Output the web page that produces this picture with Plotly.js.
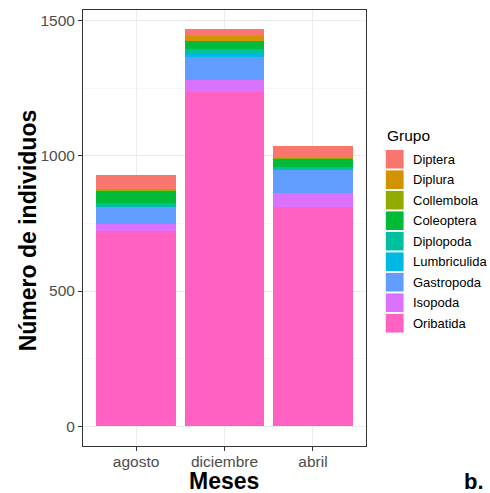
<!DOCTYPE html>
<html>
<head>
<meta charset="utf-8">
<script src="https://cdn.plot.ly/plotly-3.0.1.min.js"></script>
<style>
  html, body { margin: 0; padding: 0; background: #ffffff; }
  #chart { width: 490px; height: 493px; }
</style>
</head>
<body>
<div id="chart"></div>
<script>
// Sampling months (x axis)
const meses = ["agosto", "diciembre", "abril"];

// Taxonomic groups, from the bottom of each stack to the top
const grupos = ["Oribatida", "Isopoda", "Gastropoda", "Lumbriculida", "Diplopoda",
                "Coleoptera", "Collembola", "Diplura", "Diptera"];

// Number of individuals per group, one value per month (agosto, diciembre, abril)
const oribatida    = [722, 1236, 812];
const isopoda      = [25, 43, 52];
const gastropoda   = [64, 88, 83];
const lumbriculida = [1, 9, 1];
const diplopoda    = [15, 20, 11];
const coleoptera   = [43, 27, 31];
const collembola   = [5, 2, 1];
const diplura      = [2, 17, 2];
const diptera      = [52, 26, 43];

// ggplot2-style hue palette, same order as `grupos`
const colores = ["#FF61C3", "#DB72FB", "#619CFF", "#00B9E3", "#00C19F",
                 "#00BA38", "#93AA00", "#D39200", "#F8766D"];

const series = [oribatida, isopoda, gastropoda, lumbriculida, diplopoda,
                coleoptera, collembola, diplura, diptera];

const FONT = "Liberation Sans, Arial, sans-serif";

const traces = grupos.map((g, i) => ({
  type: "bar",
  name: g,
  x: meses,
  y: series[i],
  marker: { color: colores[i], line: { width: 0 } },
  hoverinfo: "x+y+name",
  showlegend: false
}));

// Page geometry of the plotting panel (pixels)
const W = 490, H = 493;
const PL = 82.7, PR = 365.7, PT = 10, PB = 446;
const px = x => (x - PL) / (PR - PL);
const py = y => (PB - y) / (PB - PT);

// Legend drawn as keys + labels, top group first
const shapes = [];
const annotations = [];
const legTop = 159.2, legStep = 20.5, keyW = 17.8, keyH = 18.6, keyX = 385.5;
const order = grupos.slice().reverse();
const ordColors = colores.slice().reverse();
order.forEach((g, k) => {
  const cy = legTop + k * legStep;
  shapes.push({
    type: "rect", xref: "paper", yref: "paper",
    x0: px(keyX), x1: px(keyX + keyW),
    y0: py(cy + keyH / 2), y1: py(cy - keyH / 2),
    fillcolor: ordColors[k], line: { width: 0 }
  });
  annotations.push({
    xref: "paper", yref: "paper",
    x: px(411), y: py(cy),
    xanchor: "left", yanchor: "middle",
    text: g, showarrow: false,
    font: { family: FONT, size: 13, color: "#000000" }
  });
});
annotations.push({
  xref: "paper", yref: "paper",
  x: px(384.5), y: py(135.7),
  xanchor: "left", yanchor: "middle",
  text: "Grupo", showarrow: false,
  font: { family: FONT, size: 15.5, color: "#000000" }
});

// Axis titles
annotations.push({
  xref: "paper", yref: "paper",
  x: px(224), y: py(481),
  xanchor: "center", yanchor: "middle",
  text: "<b>Meses</b>", showarrow: false,
  font: { family: FONT, size: 23, color: "#000000" }
});
annotations.push({
  xref: "paper", yref: "paper",
  x: px(28), y: py(230),
  xanchor: "center", yanchor: "middle",
  textangle: -90,
  text: "<b>Número de individuos</b>", showarrow: false,
  font: { family: FONT, size: 23, color: "#000000" }
});

// Panel tag
annotations.push({
  xref: "paper", yref: "paper",
  x: px(474), y: py(481),
  xanchor: "center", yanchor: "middle",
  text: "<b>b.</b>", showarrow: false,
  font: { family: FONT, size: 22, color: "#000000" }
});

const layout = {
  width: W, height: H,
  margin: { l: PL, r: W - PR, t: PT, b: H - PB, pad: 0 },
  paper_bgcolor: "#ffffff",
  plot_bgcolor: "#ffffff",
  barmode: "stack",
  bargap: 0.1,
  showlegend: false,
  font: { family: FONT },
  xaxis: {
    type: "category",
    categoryorder: "array",
    categoryarray: meses,
    range: [-0.6, 2.6],
    showgrid: true, gridcolor: "#ebebeb", gridwidth: 1,
    showline: true, linecolor: "#333333", linewidth: 1, mirror: true,
    ticks: "outside", ticklen: 4, tickcolor: "#333333", tickwidth: 1,
    ticklabelstandoff: -3,
    tickfont: { family: FONT, size: 15.5, color: "#4d4d4d" },
    zeroline: false
  },
  yaxis: {
    range: [-73.3, 1539.3],
    tickvals: [0, 500, 1000, 1500],
    ticktext: ["0", "500", "1000", "1500"],
    showgrid: true, gridcolor: "#ebebeb", gridwidth: 1,
    minor: { tickvals: [250, 750, 1250], showgrid: true, gridcolor: "#f5f5f5", gridwidth: 1, ticks: "" },
    showline: true, linecolor: "#333333", linewidth: 1, mirror: true,
    ticks: "outside", ticklen: 4, tickcolor: "#333333", tickwidth: 1,
    tickfont: { family: FONT, size: 15.5, color: "#4d4d4d" },
    zeroline: false
  },
  shapes: shapes,
  annotations: annotations
};

Plotly.newPlot("chart", traces, layout, { displayModeBar: false, staticPlot: true });
</script>
</body>
</html>
